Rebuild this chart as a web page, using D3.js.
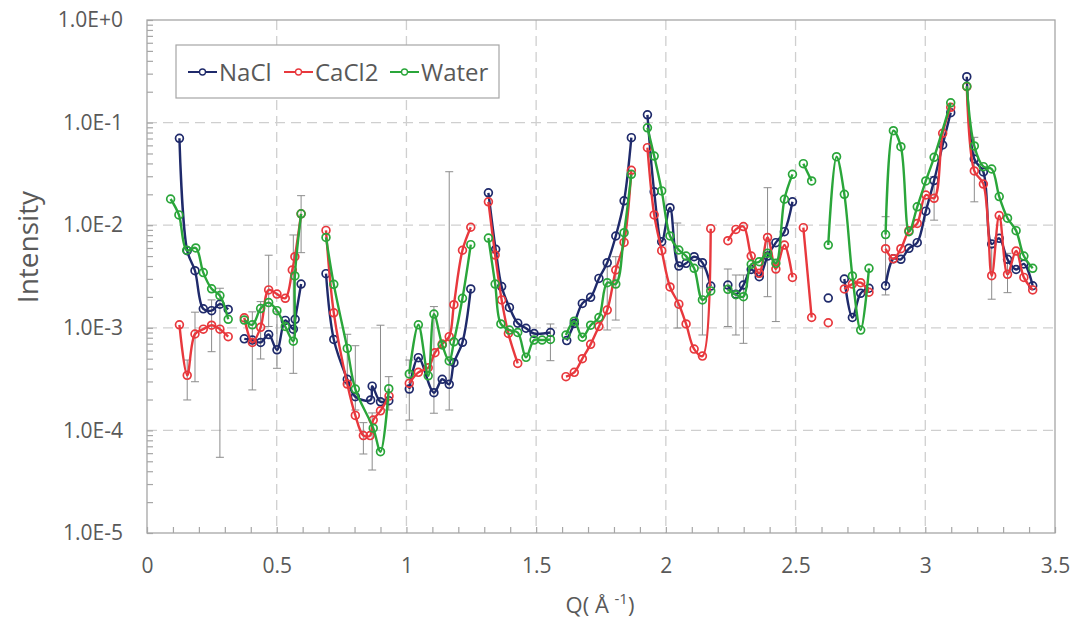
<!DOCTYPE html>
<html>
<head>
<meta charset="utf-8">
<script src="https://cdn.jsdelivr.net/npm/d3@7"></script>
<style>
  body { margin: 0; background: #fff; }
  text { font-family: "Open Sans", sans-serif; fill: #595959; }
</style>
</head>
<body>
<svg id="chart" width="1076" height="624"></svg>
<script>
// measured points, null = gap between runs
let naclQ = [0.125,0.155,0.185,0.217,0.249,0.281,0.313, null,
  0.375,0.406,0.438,0.469,0.501,0.533,0.564,0.571,0.594, null,
  0.69,0.72,0.772,0.803,0.862,0.868,0.9,0.932, null,
  1.011,1.046,1.106,1.138,1.165,1.183,1.216,1.248, null,
  1.316,1.344,1.367,1.397,1.429,1.461,1.492,1.555, null,
  1.618,1.647,1.678,1.71,1.742,1.774,1.807,1.839,1.867, null,
  1.929,1.955,1.984,2.016,2.05,2.078,2.109,2.141,2.173, null,
  2.239,2.27,2.299,2.329,2.36,2.392,2.424,2.457,2.488, null,
  2.626, null,
  2.688,2.719,2.751,2.783, null,
  2.847,2.877,2.906,2.937,2.969,3.002,3.034,3.067,3.098, null,
  3.16,3.189,3.224,3.256,3.285,3.317,3.35,3.38,3.414]
let naclI = [0.0703,0.00565,0.0036,0.00153,0.00147,0.0017,0.00151, null,
  0.00078,0.00076,0.00072,0.00086,0.00061,0.00118,0.00097,0.00121,0.00267, null,
  0.00337,0.00077,0.000315,0.000213,0.000198,0.00027,0.00019,0.000195, null,
  0.000253,0.000512,0.000233,0.000315,0.000281,0.000457,0.000722,0.00239, null,
  0.0207,0.00582,0.00252,0.00158,0.00111,0.00099,0.00088,0.0009, null,
  0.00075,0.0011,0.00173,0.00198,0.00303,0.00431,0.00785,0.0173,0.0713, null,
  0.119,0.0212,0.0069,0.0148,0.004,0.00425,0.00493,0.00431,0.00255, null,
  0.00261,0.00212,0.00261,0.0037,0.00315,0.005,0.00676,0.00865,0.0169, null,
  0.00195, null,
  0.00299,0.00126,0.00217,0.00243, null,
  0.00257,0.00472,0.00465,0.00595,0.00676,0.0137,0.0272,0.0605,0.125, null,
  0.28,0.0442,0.033,0.00656,0.00745,0.00465,0.0037,0.00419,0.00257]

let cacl2Q = [0.125,0.155,0.185,0.217,0.249,0.281,0.313, null,
  0.375,0.406,0.438,0.469,0.501,0.533,0.56,0.57,0.594, null,
  0.69,0.72,0.772,0.803,0.834,0.86,0.872,0.9,0.933, null,
  1.011,1.046,1.084,1.11,1.138,1.165,1.183,1.216,1.248, null,
  1.316,1.342,1.367,1.393,1.429, null,
  1.615,1.647,1.678,1.71,1.742,1.774,1.807,1.839,1.867, null,
  1.929,1.955,1.984,2.016,2.05,2.078,2.109,2.141,2.173, null,
  2.239,2.27,2.299,2.329,2.36,2.392,2.424,2.457,2.488, null,
  2.53,2.562, null,
  2.626, null,
  2.688,2.719,2.751,2.783, null,
  2.847,2.877,2.906,2.937,2.969,3.002,3.034,3.067,3.098, null,
  3.16,3.189,3.224,3.256,3.285,3.317,3.35,3.38,3.414]
let cacl2I = [0.00107,0.000344,0.00087,0.00097,0.00106,0.00097,0.00082, null,
  0.00125,0.00072,0.00101,0.00234,0.00213,0.00194,0.00366,0.00493,0.0129, null,
  0.0089,0.0014,0.000283,0.00014,0.000089,0.000089,0.000126,0.000155,0.000216, null,
  0.000288,0.000368,0.000408,0.000572,0.000695,0.00082,0.00168,0.0057,0.00955, null,
  0.0169,0.00512,0.00187,0.00088,0.00045, null,
  0.000334,0.000368,0.0005,0.00069,0.00103,0.00149,0.00366,0.0068,0.0343, null,
  0.057,0.0126,0.00565,0.0025,0.0017,0.00109,0.00062,0.00053,0.00925, null,
  0.00706,0.0091,0.0097,0.005,0.0034,0.0076,0.00374,0.00641,0.0031, null,
  0.00946,0.00126, null,
  0.00112, null,
  0.00239,0.00267,0.00275,0.00222, null,
  0.0059,0.0047,0.0059,0.00885,0.0104,0.0197,0.0183,0.0787,0.141, null,
  0.224,0.0338,0.0252,0.00322,0.0124,0.00332,0.0056,0.0031,0.00234]

let waterQ = [0.091,0.123,0.153,0.188,0.217,0.249,0.281,0.313, null,
  0.375,0.406,0.438,0.469,0.501,0.533,0.564,0.57,0.594, null,
  0.69,0.72,0.772,0.803,0.872,0.9,0.932, null,
  1.011,1.046,1.084,1.106,1.138,1.165,1.183,1.216,1.248, null,
  1.316,1.342,1.364,1.397,1.429,1.461,1.492,1.523,1.555, null,
  1.615,1.647,1.678,1.71,1.742,1.774,1.807,1.839,1.867, null,
  1.929,1.955,1.984,2.016,2.05,2.078,2.109,2.141,2.173, null,
  2.239,2.27,2.299,2.329,2.36,2.392,2.424,2.457,2.488, null,
  2.53,2.562, null,
  2.626,2.658,2.688,2.719,2.751,2.783, null,
  2.847,2.877,2.906,2.937,2.969,3.002,3.034,3.098, null,
  3.16,3.189,3.224,3.256,3.285,3.317,3.35,3.38,3.414]
let waterI = [0.018,0.0126,0.0057,0.006,0.00345,0.0024,0.00206,0.00121, null,
  0.00119,0.00107,0.00154,0.00176,0.00147,0.00103,0.00074,0.0032,0.0129, null,
  0.0076,0.00265,0.00063,0.000253,0.000105,0.000062,0.000255, null,
  0.000355,0.00107,0.00034,0.00136,0.00068,0.000475,0.00073,0.00194,0.00646, null,
  0.0075,0.00267,0.00109,0.00095,0.0009,0.000515,0.00076,0.00076,0.00077, null,
  0.00085,0.00116,0.00081,0.00106,0.00126,0.00275,0.00267,0.00845,0.0313, null,
  0.089,0.0472,0.0216,0.00785,0.00573,0.005,0.0038,0.00187,0.00229, null,
  0.00237,0.0021,0.00201,0.00416,0.00441,0.00532,0.00425,0.0179,0.0313, null,
  0.0398,0.027, null,
  0.00641,0.0465,0.02,0.0032,0.00095,0.0038, null,
  0.0081,0.0834,0.0582,0.00865,0.0151,0.027,0.0459,0.156, null,
  0.226,0.0592,0.0372,0.0353,0.019,0.0117,0.00885,0.005,0.0038]

// error bars (grey), low / high intensity
let errQ = [0.155,0.185,0.249,0.281,0.406,0.438,0.469,0.501,0.564,0.594,0.772,0.803,0.834,0.868,0.9,0.932,
  1.011,1.106,1.165,1.555,1.774,1.807,2.044,2.141,2.239,2.27,2.299,2.392,2.424,2.847,3.034,3.189,3.256,3.317]
let errHi = [4.85e-4,1.42e-3,1.87e-3,2.43e-3,1.43e-3,1.8e-3,5.1e-3,1.43e-3,8.03e-3,1.94e-2,8.65e-4,6.69e-4,1.19e-4,1.48e-4,1.06e-3,3.34e-4,
  4.85e-4,1.61e-3,3.32e-2,1.09e-3,3.94e-3,4.93e-3,1.05e-2,3.83e-3,3.74e-3,3.27e-3,3.27e-3,2.32e-2,4.58e-3,1.21e-2,2.97e-2,7.19e-2,6.17e-3,5.32e-3]
let errLo = [1.98e-4,2.98e-4,5.85e-4,5.47e-5,2.48e-4,4.97e-4,1.03e-3,4.03e-4,3.6e-4,5.4e-3,2.83e-4,1.58e-4,5.89e-5,4.11e-5,1.98e-4,1.58e-4,
  1.26e-4,1.47e-4,1.58e-4,4.78e-4,9.52e-4,1.19e-3,9.95e-4,8.51e-4,1.03e-3,8.51e-4,7.06e-4,2.01e-3,1.15e-3,2.09e-3,1.12e-2,1.69e-2,1.9e-3,2.2e-3]

let seriesNames = ["NaCl", "CaCl2", "Water"]
let seriesColors = ["#1f2a6b", "#e8383d", "#2aa63a"]
let xTicks = [0, 0.5, 1, 1.5, 2, 2.5, 3, 3.5]
let yTicks = [1e-5, 1e-4, 1e-3, 1e-2, 1e-1, 1]

let series = [
  { name: seriesNames[0], color: seriesColors[0], q: naclQ, v: naclI },
  { name: seriesNames[1], color: seriesColors[1], q: cacl2Q, v: cacl2I },
  { name: seriesNames[2], color: seriesColors[2], q: waterQ, v: waterI }
]

let svg = d3.select("#chart")
let plotL = 147, plotR = 1055, plotT = 20, plotB = 533

let x = d3.scaleLinear().domain([0, 3.5]).range([plotL, plotR])
let y = d3.scaleLog().domain([1e-5, 1]).range([plotB, plotT])

// gridlines
svg.append("g").selectAll("line")
  .data(yTicks.slice(1, -1))
  .enter().append("line")
  .attr("x1", plotL).attr("x2", plotR)
  .attr("y1", d => y(d)).attr("y2", d => y(d))
  .attr("stroke", "#cfcfcf").attr("stroke-width", 1.3).attr("stroke-dasharray", "10,6")
svg.append("g").selectAll("line")
  .data(xTicks.slice(1, -1))
  .enter().append("line")
  .attr("y1", plotT).attr("y2", plotB)
  .attr("x1", d => x(d)).attr("x2", d => x(d))
  .attr("stroke", "#cfcfcf").attr("stroke-width", 1.3).attr("stroke-dasharray", "10,6")

// minor ticks, pointing inward
let minorY = []
for (let e = -5; e < 0; e++) for (let m = 1; m < 10; m++) minorY.push(m * Math.pow(10, e))
minorY.push(1)

svg.append("g").attr("transform", "translate(0," + plotB + ")")
  .call(d3.axisBottom(x).tickValues(d3.range(0, 36).map(i => i / 10)).tickSize(-6).tickFormat(""))
let xLabels = svg.append("g").attr("transform", "translate(0," + plotB + ")")
  .call(d3.axisBottom(x).tickValues(xTicks).tickSize(0).tickPadding(25).tickFormat(d => d))
svg.append("g").attr("transform", "translate(" + plotL + ",0)")
  .call(d3.axisLeft(y).tickValues(minorY).tickSize(-6).tickFormat(""))
let yLabels = svg.append("g").attr("transform", "translate(" + plotL + ",0)")
  .call(d3.axisLeft(y).tickValues(yTicks).tickSize(0).tickPadding(24)
    .tickFormat(d => { let e = Math.round(Math.log10(d)); return "1.0E" + (e >= 0 ? "+" : "") + e }))

svg.selectAll(".domain").remove()
svg.selectAll(".tick line").attr("stroke", "#a6a6a6").attr("stroke-width", 1.2)
xLabels.selectAll("text").style("font-size", "21px").style("fill", "#595959")
yLabels.selectAll("text").style("font-size", "21px").style("fill", "#595959")

// plot frame
svg.append("rect")
  .attr("x", plotL).attr("y", plotT)
  .attr("width", plotR - plotL).attr("height", plotB - plotT)
  .attr("fill", "none").attr("stroke", "#a6a6a6").attr("stroke-width", 1.3)

// error bars
let errData = errQ.map((q, k) => ({ q: q, lo: errLo[k], hi: errHi[k] }))
let eb = svg.append("g").attr("stroke", "#8c8c8c").attr("stroke-width", 1)
eb.selectAll("line.v").data(errData).enter().append("line")
  .attr("x1", d => x(d.q)).attr("x2", d => x(d.q))
  .attr("y1", d => y(d.hi)).attr("y2", d => y(d.lo))
eb.selectAll("line.t").data(errData).enter().append("line")
  .attr("x1", d => x(d.q) - 4).attr("x2", d => x(d.q) + 4)
  .attr("y1", d => y(d.hi)).attr("y2", d => y(d.hi))
eb.selectAll("line.b").data(errData).enter().append("line")
  .attr("x1", d => x(d.q) - 4).attr("x2", d => x(d.q) + 4)
  .attr("y1", d => y(d.lo)).attr("y2", d => y(d.lo))

// lines + markers
let line = d3.line()
  .defined(d => d.v != null)
  .x(d => x(d.q)).y(d => y(d.v))
  .curve(d3.curveCatmullRom.alpha(0.5))

series.forEach(s => {
  let pts = s.q.map((q, k) => ({ q: q, v: s.v[k] }))
  let g = svg.append("g")
  g.append("path")
    .datum(pts)
    .attr("d", line)
    .attr("fill", "none")
    .attr("stroke", s.color)
    .attr("stroke-width", 2.4)
  g.selectAll("circle")
    .data(pts.filter(d => d.v != null))
    .enter().append("circle")
    .attr("cx", d => x(d.q)).attr("cy", d => y(d.v))
    .attr("r", 3.9)
    .attr("fill", "none")
    .attr("stroke", s.color)
    .attr("stroke-width", 1.7)
})

// legend
let legend = svg.append("g")
legend.append("rect")
  .attr("x", 176).attr("y", 45).attr("width", 323).attr("height", 53)
  .attr("fill", "#fff").attr("stroke", "#a6a6a6").attr("stroke-width", 1.2)
let legendX = [188, 284, 390]
series.forEach((s, i) => {
  let lx = legendX[i]
  legend.append("line")
    .attr("x1", lx).attr("x2", lx + 29).attr("y1", 72).attr("y2", 72)
    .attr("stroke", s.color).attr("stroke-width", 2)
  legend.append("circle")
    .attr("cx", lx + 14.5).attr("cy", 72).attr("r", 3)
    .attr("fill", "#fff").attr("stroke", s.color).attr("stroke-width", 1.3)
  legend.append("text")
    .attr("x", lx + 31).attr("y", 72).attr("dy", "0.36em")
    .style("font-size", "24px")
    .text(s.name)
})

// axis titles
svg.append("text")
  .attr("transform", "translate(38,247) rotate(-90)")
  .attr("text-anchor", "middle")
  .style("font-size", "28px")
  .text("Intensity")

let xt = svg.append("text")
  .attr("x", 600).attr("y", 613)
  .attr("text-anchor", "middle")
  .style("font-size", "22px")
xt.append("tspan").text("Q( Å ")
xt.append("tspan").attr("dy", -9).style("font-size", "15px").text("-1")
xt.append("tspan").attr("dy", 9).text(")")
</script>
</body>
</html>
